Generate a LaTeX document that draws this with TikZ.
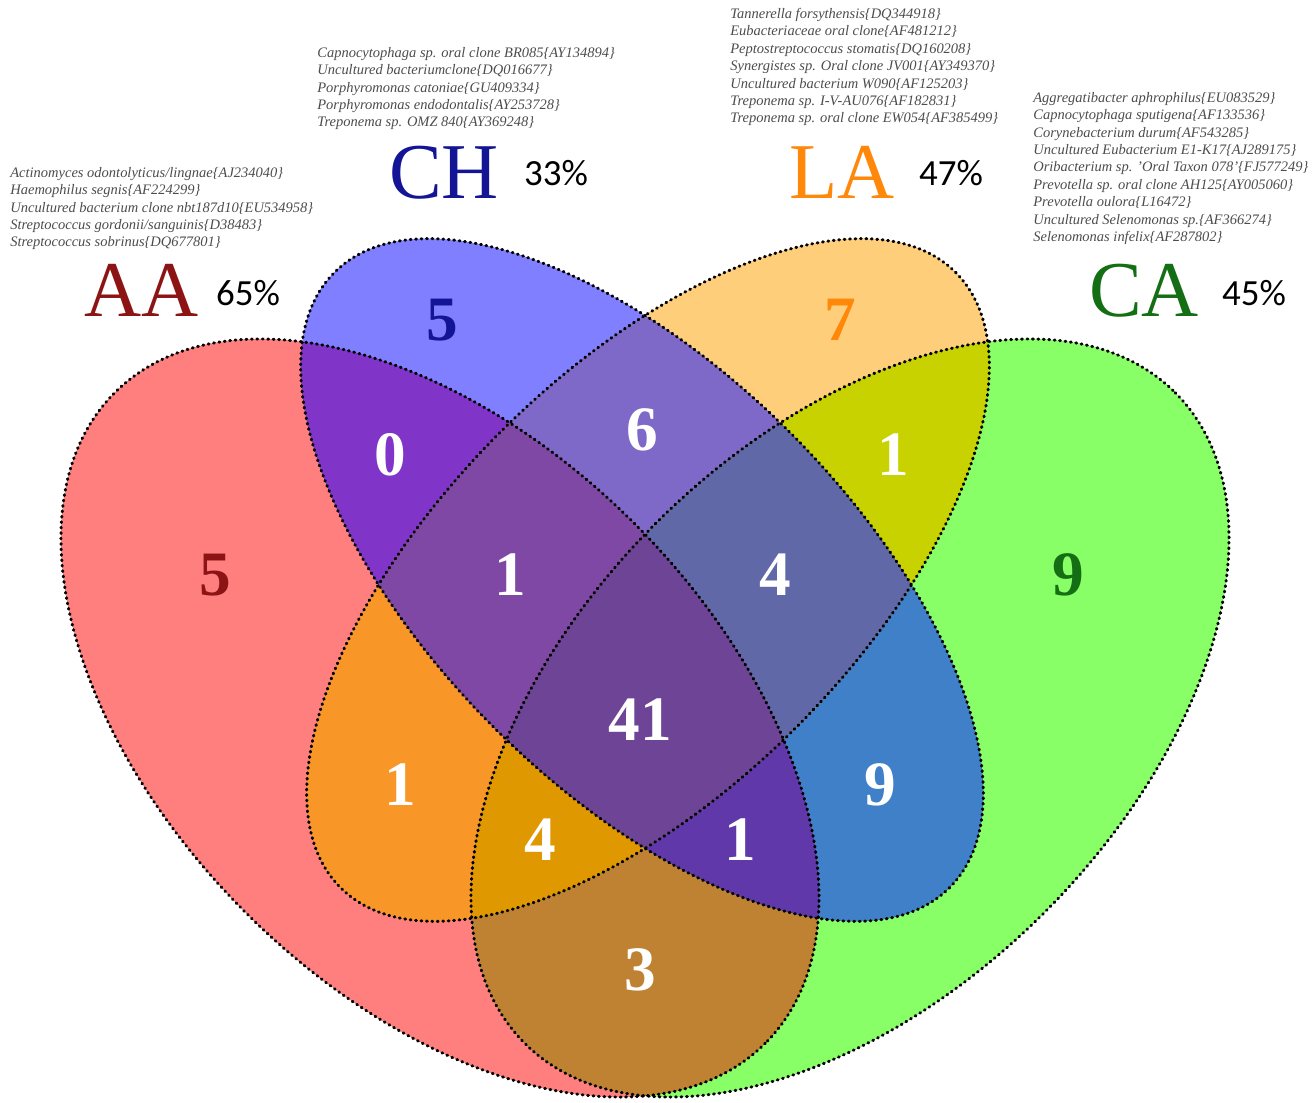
\documentclass[tikz,border=0pt]{standalone}
\usepackage{fontspec}
\setmainfont{Liberation Serif}
\newfontfamily\pctfont{Carlito}

% fill colours of the regions
\definecolor{cAA}{RGB}{255,127,127}
\definecolor{cCH}{RGB}{127,127,255}
\definecolor{cLA}{RGB}{254,206,122}
\definecolor{cCA}{RGB}{136,255,102}
\definecolor{cAACH}{RGB}{128,52,200}
\definecolor{cAALA}{RGB}{248,150,40}
\definecolor{cAACA}{RGB}{190,130,50}
\definecolor{cCHLA}{RGB}{126,104,200}
\definecolor{cCHCA}{RGB}{64,128,200}
\definecolor{cLACA}{RGB}{200,210,0}
\definecolor{cAACHLA}{RGB}{128,72,165}
\definecolor{cAACHCA}{RGB}{96,56,170}
\definecolor{cAALACA}{RGB}{224,152,0}
\definecolor{cCHLACA}{RGB}{96,104,168}
\definecolor{cALL}{RGB}{110,68,150}
% text colours
\definecolor{tAA}{RGB}{140,20,20}
\definecolor{tCH}{RGB}{20,20,150}
\definecolor{tLA}{RGB}{255,135,10}
\definecolor{tCA}{RGB}{20,110,20}

% the four sets
\newcommand{\setAA}[1]{\path[#1,rotate around={-45:(440,718)}] (440,718) ellipse [x radius=460,y radius=275];}
\newcommand{\setCH}[1]{\path[#1,rotate around={-45:(642,580)}] (642,580) ellipse [x radius=435,y radius=209];}
\newcommand{\setLA}[1]{\path[#1,rotate around={45:(648,580)}] (648,580) ellipse [x radius=435,y radius=209];}
\newcommand{\setCA}[1]{\path[#1,rotate around={45:(850,718)}] (850,718) ellipse [x radius=460,y radius=275];}

\begin{document}
\begin{tikzpicture}[x=0.02cm,y=-0.02cm,
  num/.style={font=\fontsize{36}{36}\selectfont\bfseries, text=white},
  setname/.style={font=\fontsize{45}{45}\selectfont, anchor=base west},
  pct/.style={font=\pctfont\fontsize{21}{21}\selectfont, anchor=west},
  species/.style={font=\fontsize{8.25}{9.9}\selectfont\itshape, text=black!70, align=left, anchor=north west, inner sep=0pt},
  vdot/.style={draw=black, line width=1.7pt, dash pattern=on 0.5pt off 2.6pt, line cap=round}]
  \useasboundingbox (0,0) rectangle (1313,1103);

  % single sets
  \setAA{fill=cAA} \setCH{fill=cCH} \setLA{fill=cLA} \setCA{fill=cCA}
  % two sets
  \begin{scope}\setAA{clip}\setCH{fill=cAACH}\end{scope}
  \begin{scope}\setAA{clip}\setLA{fill=cAALA}\end{scope}
  \begin{scope}\setAA{clip}\setCA{fill=cAACA}\end{scope}
  \begin{scope}\setCH{clip}\setLA{fill=cCHLA}\end{scope}
  \begin{scope}\setCH{clip}\setCA{fill=cCHCA}\end{scope}
  \begin{scope}\setLA{clip}\setCA{fill=cLACA}\end{scope}
  % three sets
  \begin{scope}\setAA{clip}\setCH{clip}\setLA{fill=cAACHLA}\end{scope}
  \begin{scope}\setAA{clip}\setCH{clip}\setCA{fill=cAACHCA}\end{scope}
  \begin{scope}\setAA{clip}\setLA{clip}\setCA{fill=cAALACA}\end{scope}
  \begin{scope}\setCH{clip}\setLA{clip}\setCA{fill=cCHLACA}\end{scope}
  % all four
  \begin{scope}\setAA{clip}\setCH{clip}\setLA{clip}\setCA{fill=cALL}\end{scope}
  % outlines
  \setAA{vdot} \setCH{vdot} \setLA{vdot} \setCA{vdot}

  % region counts
  \node[num, text=tAA] (nA) at (215,575) {5};
  \node[num, text=tCH] (nB) at (442,320) {5};
  \node[num, text=tLA] (nC) at (840,320) {7};
  \node[num, text=tCA] (nD) at (1068,575) {9};
  \node[num] (nAB) at (390,455) {0};
  \node[num] (nBC) at (642,430) {6};
  \node[num] (nCD) at (893,455) {1};
  \node[num] (nABC) at (510,575) {1};
  \node[num] (nBCD) at (775,575) {4};
  \node[num] (nABCD) at (640,720) {41};
  \node[num] (nAC) at (400,785) {1};
  \node[num] (nBD) at (880,785) {9};
  \node[num] (nACD) at (540,840) {4};
  \node[num] (nABD) at (740,840) {1};
  \node[num] (nAD) at (640,970) {3};

  % set names
  \node[setname, text=tAA] (lAA) at (78,316) {AA};
  \node[pct] (pAA) at (210,293) {65\%};
  \node[setname, text=tCH] (lCH) at (383,198) {CH};
  \node[pct] (pCH) at (518,173) {33\%};
  \node[setname, text=tLA] (lLA) at (783,198) {LA};
  \node[pct] (pLA) at (913,173) {47\%};
  \node[setname, text=tCA] (lCA) at (1083,316) {CA};
  \node[pct] (pCA) at (1216,293) {45\%};

  % species lists
  \node[species] (sAA) at (10,167) {Actinomyces odontolyticus/lingnae\{AJ234040\}\\
    Haemophilus segnis\{AF224299\}\\
    Uncultured bacterium clone nbt187d10\{EU534958\}\\
    Streptococcus gordonii/sanguinis\{D38483\}\\
    Streptococcus sobrinus\{DQ677801\}};
  \node[species] (sCH) at (317,47) {Capnocytophaga sp. oral clone BR085\{AY134894\}\\
    Uncultured bacteriumclone\{DQ016677\}\\
    Porphyromonas catoniae\{GU409334\}\\
    Porphyromonas endodontalis\{AY253728\}\\
    Treponema sp. OMZ 840\{AY369248\}};
  \node[species] (sLA) at (730,8) {Tannerella forsythensis\{DQ344918\}\\
    Eubacteriaceae oral clone\{AF481212\}\\
    Peptostreptococcus stomatis\{DQ160208\}\\
    Synergistes sp. Oral clone JV001\{AY349370\}\\
    Uncultured bacterium W090\{AF125203\}\\
    Treponema sp. I-V-AU076\{AF182831\}\\
    Treponema sp. oral clone EW054\{AF385499\}};
  \node[species] (sCA) at (1033,92) {Aggregatibacter aphrophilus\{EU083529\}\\
    Capnocytophaga sputigena\{AF133536\}\\
    Corynebacterium durum\{AF543285\}\\
    Uncultured Eubacterium E1-K17\{AJ289175\}\\
    Oribacterium sp. 'Oral Taxon 078'\{FJ577249\}\\
    Prevotella sp. oral clone AH125\{AY005060\}\\
    Prevotella oulora\{L16472\}\\
    Uncultured Selenomonas sp.\{AF366274\}\\
    Selenomonas infelix\{AF287802\}};
\end{tikzpicture}
\end{document}
